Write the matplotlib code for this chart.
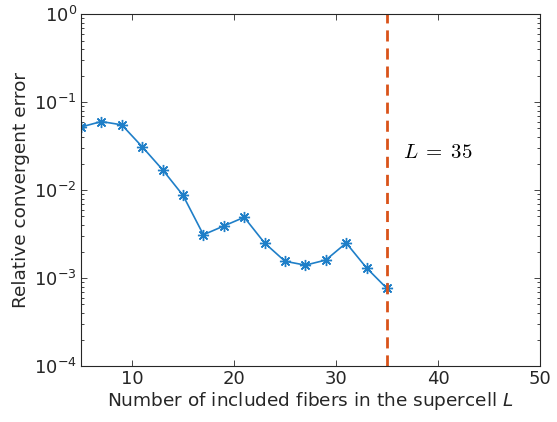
import matplotlib
matplotlib.use("Agg")
import matplotlib.pyplot as plt
from matplotlib.ticker import LogLocator, NullFormatter

L_values = [5, 7, 9, 11, 13, 15, 17, 19, 21, 23, 25, 27, 29, 31, 33, 35]
errors = [0.052, 0.060, 0.055, 0.031, 0.017, 0.0087, 0.0031, 0.0039, 0.0049,
          0.0025, 0.00155, 0.0014, 0.0016, 0.0025, 0.0013, 0.00076]
L_chosen = 35
x_ticks = [10, 20, 30, 40, 50]

grey = (0.15, 0.15, 0.15)
plt.rcParams['mathtext.fontset'] = 'dejavusans'

fig = plt.figure(figsize=(5.57, 4.22), dpi=100)
ax = fig.add_axes([0.1454, 0.1327, 0.8241, 0.8341])

ax.plot(L_values, errors, color='#1F7FC8', marker=(8, 2, 0), markersize=8, lw=1.2,
        markeredgewidth=1.0)
ax.axvline(L_chosen, color='#D95319', ls=(0, (4, 2.5)), lw=2)
ax.text(36.6, 0.027, r'$L\;=\;35$', fontsize=15, va='center', ha='left',
        math_fontfamily='cm')

ax.set_yscale('log')
ax.set_xlim(5, 50)
ax.set_ylim(1e-4, 1e0)
ax.set_xticks(x_ticks)
ax.yaxis.set_major_locator(LogLocator(base=10, numticks=10))
ax.yaxis.set_minor_locator(LogLocator(base=10, subs=range(2, 10), numticks=10))
ax.yaxis.set_minor_formatter(NullFormatter())

ax.tick_params(which='both', direction='in', top=True, right=True, colors=grey,
               labelsize=13, width=0.6, pad=3)
ax.tick_params(which='major', length=4)
ax.tick_params(which='minor', length=2)
for s in ax.spines.values():
    s.set_color(grey)
    s.set_linewidth(0.8)

ax.set_xlabel(r'Number of included fibers in the supercell $L$', fontsize=13.3,
              color=grey, labelpad=1)
ax.set_ylabel('Relative convergent error', fontsize=13.3, color=grey, labelpad=3)

fig.savefig('out.png', dpi=100)
